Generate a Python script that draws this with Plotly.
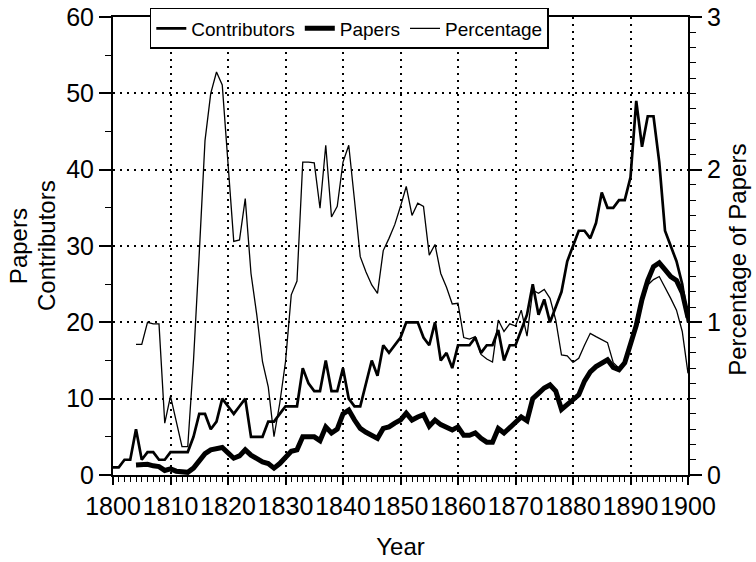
import plotly.graph_objects as go

years = list(range(1800, 1901))

contributors = [
    1, 1, 2, 2, 6, 2, 3, 3, 2, 2,            # 1800-1809
    3, 3, 3, 3, 5, 8, 8, 6, 7, 10,           # 1810-1819
    9, 8, 9, 10, 5, 5, 5, 7, 7, 8,           # 1820-1829
    9, 9, 9, 14, 12, 11, 11, 15, 11, 11,     # 1830-1839
    14, 10, 9, 9, 12, 15, 13, 17, 16, 17,    # 1840-1849
    18, 20, 20, 20, 18, 17, 20, 15, 16, 14,  # 1850-1859
    17, 17, 17, 18, 16, 17, 17, 19, 15, 17,  # 1860-1869
    17, 19, 21, 25, 21, 23, 20, 22, 24, 28,  # 1870-1879
    30, 32, 32, 31, 33, 37, 35, 35, 36, 36,  # 1880-1889
    39, 49, 43, 47, 47, 41, 32, 30, 28, 25,  # 1890-1899
    20,                                      # 1900
]

papers = [
    None, None, None, None, 1.3, 1.3, 1.4, 1.2, 1.1, 0.6,   # 1800-1809
    0.8, 0.5, 0.4, 0.35, 0.9, 1.9, 2.8, 3.3, 3.5, 3.6,      # 1810-1819
    2.9, 2.2, 2.5, 3.3, 2.6, 2.2, 1.7, 1.5, 0.9, 1.5,       # 1820-1829
    2.2, 3.1, 3.3, 5.0, 5.0, 5.0, 4.5, 6.3, 5.5, 6.0,       # 1830-1839
    8.0, 8.5, 7.2, 6.1, 5.6, 5.2, 4.8, 6.1, 6.3, 6.8,       # 1840-1849
    7.2, 8.1, 7.2, 7.6, 7.9, 6.4, 7.2, 6.6, 6.3, 5.9,       # 1850-1859
    6.3, 5.2, 5.2, 5.5, 4.8, 4.3, 4.3, 6.1, 5.5, 6.2,       # 1860-1869
    6.9, 7.6, 7.1, 10.0, 10.7, 11.4, 11.8, 11.0, 8.6, 9.2,  # 1870-1879
    9.7, 10.5, 12.3, 13.5, 14.2, 14.6, 15.1, 14.1, 13.8, 14.7,  # 1880-1889
    16.9, 19.6, 23.0, 25.5, 27.3, 27.8, 26.9, 26.0, 25.5, 23.9,  # 1890-1899
    20.6,                                                     # 1900
]

percentage = [
    None, None, None, None, 0.856, 0.856, 1.0, 0.99, 0.99, 0.34,     # 1800-1809
    0.517, 0.35, 0.186, 0.186, 0.75, 1.45, 2.19, 2.5, 2.64, 2.555,   # 1810-1819
    2.05, 1.53, 1.54, 1.81, 1.32, 1.05, 0.742, 0.578, 0.251, 0.47,   # 1820-1829
    0.742, 1.18, 1.27, 2.05, 2.05, 2.045, 1.747, 2.16, 1.69, 1.76,   # 1830-1839
    2.05, 2.16, 1.8, 1.43, 1.33, 1.245, 1.19, 1.47, 1.55, 1.64,      # 1840-1849
    1.76, 1.89, 1.70, 1.78, 1.76, 1.44, 1.51, 1.32, 1.23, 1.12,      # 1850-1859
    1.125, 0.90, 0.89, 0.906, 0.79, 0.76, 0.74, 1.015, 0.94, 0.99,   # 1860-1869
    0.976, 1.08, 0.91, 1.21, 1.19, 1.216, 1.157, 1.015, 0.786, 0.78, # 1870-1879
    0.738, 0.764, 0.85, 0.928, 0.906, 0.884, 0.867, 0.736, 0.70, 0.742,  # 1880-1889
    0.83, 0.97, 1.125, 1.245, 1.28, 1.30, 1.233, 1.157, 1.08, 0.94,  # 1890-1899
    0.666,                                                            # 1900
]

FONT = "Liberation Sans, Arial, Helvetica, sans-serif"

fig = go.Figure()
fig.add_trace(go.Scatter(x=years, y=contributors, name="Contributors", mode="lines",
                         line=dict(color="black", width=2.7), yaxis="y"))
fig.add_trace(go.Scatter(x=years, y=papers, name="Papers", mode="lines",
                         line=dict(color="black", width=5), yaxis="y"))
fig.add_trace(go.Scatter(x=years, y=percentage, name="Percentage", mode="lines",
                         line=dict(color="black", width=1.3), yaxis="y2"))

grid_dash = "2px,5px"
TICK_SIZE = 25

fig.update_layout(
    width=756, height=562,
    margin=dict(l=113, r=68, t=17, b=87, autoexpand=False),
    paper_bgcolor="white", plot_bgcolor="white",
    font=dict(family=FONT, color="black", size=TICK_SIZE),
    showlegend=True,
    legend=dict(orientation="h", x=0.064, y=1.0197, xanchor="left", yanchor="top",
                bgcolor="white", bordercolor="black", borderwidth=1.5,
                font=dict(size=19, family=FONT), itemwidth=30,
                traceorder="normal"),
    xaxis=dict(range=[1800, 1900], tick0=1800, dtick=10, tickangle=0,
               ticks="outside", ticklen=8, tickwidth=1.5, tickcolor="black",
               minor=dict(dtick=1, ticks="outside", ticklen=5, tickwidth=1, tickcolor="black"),
               showgrid=True, gridcolor="black", griddash=grid_dash, gridwidth=1.6,
               showline=True, linecolor="black", linewidth=2, mirror=True,
               zeroline=False, tickfont=dict(size=TICK_SIZE, family=FONT),
               title=dict(text="Year", font=dict(size=24, family=FONT), standoff=19)),
    yaxis=dict(range=[0, 60], tick0=0, dtick=10,
               ticks="outside", ticklen=12, tickwidth=1.5, tickcolor="black",
               minor=dict(dtick=5, ticks="outside", ticklen=6, tickwidth=1, tickcolor="black"),
               showgrid=True, gridcolor="black", griddash=grid_dash, gridwidth=1.6,
               showline=True, linecolor="black", linewidth=2,
               zeroline=False, tickfont=dict(size=TICK_SIZE, family=FONT)),
    yaxis2=dict(range=[0, 3], tick0=0, dtick=1, overlaying="y", side="right",
                ticks="outside", ticklen=12, tickwidth=1.5, tickcolor="black",
                minor=dict(dtick=0.1, ticks="outside", ticklen=6, tickwidth=1, tickcolor="black"),
                showgrid=False, showline=True, linecolor="black", linewidth=2,
                zeroline=False, tickfont=dict(size=TICK_SIZE, family=FONT)),
)

fig.add_annotation(text="Papers", xref="paper", yref="paper", x=-0.165, y=0.5,
                   textangle=-90, showarrow=False, font=dict(size=24, family=FONT),
                   xanchor="center", yanchor="middle")
fig.add_annotation(text="Contributors", xref="paper", yref="paper", x=-0.1165, y=0.5,
                   textangle=-90, showarrow=False, font=dict(size=24, family=FONT),
                   xanchor="center", yanchor="middle")
fig.add_annotation(text="Percentage of Papers", xref="paper", yref="paper", x=1.087, y=0.47,
                   textangle=-90, showarrow=False, font=dict(size=24, family=FONT),
                   xanchor="center", yanchor="middle")

fig.write_html("out.html", config={"displayModeBar": False},
               post_script="document.body.style.margin='0px';document.body.style.padding='0px';")
